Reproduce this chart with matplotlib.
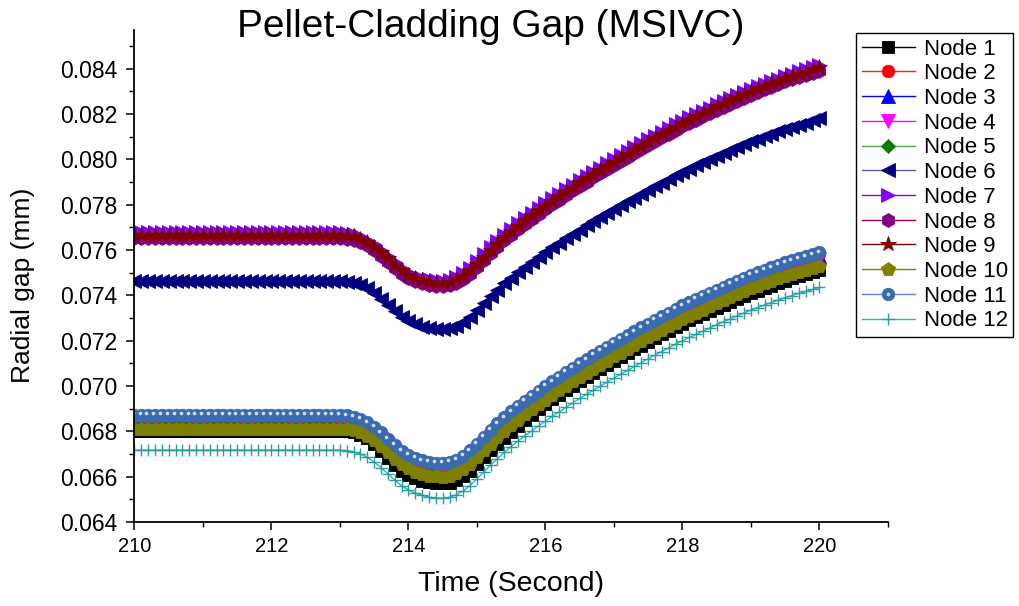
import numpy as np
import matplotlib
matplotlib.use("Agg")
import matplotlib.pyplot as plt
import matplotlib.transforms as mtransforms
from matplotlib.legend_handler import HandlerTuple
from matplotlib.ticker import MultipleLocator, FormatStrFormatter

plt.rcParams['font.family'] = ['Liberation Sans', 'DejaVu Sans']

# Sample times (s), every 0.1 s
time_s = np.round(np.linspace(210.0, 220.0, 101), 1)

# Radial pellet-cladding gap (mm) per axial node; constant until 213.0 s
node1 = [0.06802] * 31 + [
    0.06800, 0.06795, 0.06785, 0.06770, 0.06745, 0.06715, 0.06683, 0.06650, 0.06625, 0.06606,
    0.06592, 0.06582, 0.06575, 0.06571, 0.06570, 0.06574, 0.06585, 0.06602, 0.06626, 0.06655,
    0.06686, 0.06716, 0.06745, 0.06772, 0.06798, 0.06824, 0.06849, 0.06873, 0.06897, 0.06920,
    0.06941, 0.06961, 0.06981, 0.07001, 0.07020, 0.07038, 0.07056, 0.07074, 0.07092, 0.07110,
    0.07127, 0.07144, 0.07161, 0.07178, 0.07195, 0.07211, 0.07227, 0.07243, 0.07259, 0.07275,
    0.07289, 0.07303, 0.07317, 0.07331, 0.07345, 0.07358, 0.07371, 0.07384, 0.07397, 0.07410,
    0.07421, 0.07432, 0.07443, 0.07454, 0.07465, 0.07474, 0.07483, 0.07492, 0.07501, 0.07510]

node2 = [0.06864] * 31 + [
    0.06862, 0.06857, 0.06847, 0.06832, 0.06812, 0.06787, 0.06760, 0.06732, 0.06707, 0.06688,
    0.06674, 0.06664, 0.06657, 0.06653, 0.06652, 0.06656, 0.06667, 0.06684, 0.06708, 0.06737,
    0.06768, 0.06798, 0.06827, 0.06854, 0.06880, 0.06904, 0.06927, 0.06949, 0.06971, 0.06992,
    0.07013, 0.07033, 0.07053, 0.07073, 0.07092, 0.07110, 0.07128, 0.07146, 0.07164, 0.07182,
    0.07199, 0.07216, 0.07233, 0.07250, 0.07267, 0.07283, 0.07299, 0.07315, 0.07331, 0.07347,
    0.07361, 0.07375, 0.07389, 0.07403, 0.07417, 0.07430, 0.07443, 0.07456, 0.07469, 0.07482,
    0.07493, 0.07504, 0.07515, 0.07526, 0.07537, 0.07546, 0.07555, 0.07564, 0.07573, 0.07582]

node3 = [0.06854] * 31 + [
    0.06852, 0.06847, 0.06837, 0.06822, 0.06802, 0.06777, 0.06750, 0.06722, 0.06697, 0.06678,
    0.06664, 0.06654, 0.06647, 0.06643, 0.06642, 0.06646, 0.06657, 0.06674, 0.06698, 0.06727,
    0.06758, 0.06788, 0.06817, 0.06844, 0.06870, 0.06894, 0.06917, 0.06939, 0.06961, 0.06982,
    0.07003, 0.07023, 0.07043, 0.07063, 0.07082, 0.07100, 0.07118, 0.07136, 0.07154, 0.07172,
    0.07189, 0.07206, 0.07223, 0.07240, 0.07257, 0.07273, 0.07289, 0.07305, 0.07321, 0.07337,
    0.07351, 0.07365, 0.07379, 0.07393, 0.07407, 0.07420, 0.07433, 0.07446, 0.07459, 0.07472,
    0.07483, 0.07494, 0.07505, 0.07516, 0.07527, 0.07536, 0.07545, 0.07554, 0.07563, 0.07572]

node4 = [0.06842] * 31 + [
    0.06840, 0.06835, 0.06825, 0.06810, 0.06790, 0.06765, 0.06738, 0.06710, 0.06685, 0.06666,
    0.06652, 0.06642, 0.06635, 0.06631, 0.06630, 0.06634, 0.06645, 0.06662, 0.06686, 0.06715,
    0.06746, 0.06776, 0.06805, 0.06832, 0.06858, 0.06882, 0.06905, 0.06927, 0.06949, 0.06970,
    0.06991, 0.07011, 0.07031, 0.07051, 0.07070, 0.07088, 0.07106, 0.07124, 0.07142, 0.07160,
    0.07177, 0.07194, 0.07211, 0.07228, 0.07245, 0.07261, 0.07277, 0.07293, 0.07309, 0.07325,
    0.07339, 0.07353, 0.07367, 0.07381, 0.07395, 0.07408, 0.07421, 0.07434, 0.07447, 0.07460,
    0.07471, 0.07482, 0.07493, 0.07504, 0.07515, 0.07524, 0.07533, 0.07542, 0.07551, 0.07560]

node5 = [0.06817] * 31 + [
    0.06815, 0.06810, 0.06800, 0.06785, 0.06765, 0.06740, 0.06713, 0.06685, 0.06660, 0.06641,
    0.06627, 0.06617, 0.06610, 0.06606, 0.06605, 0.06609, 0.06620, 0.06637, 0.06661, 0.06690,
    0.06721, 0.06751, 0.06780, 0.06807, 0.06833, 0.06857, 0.06880, 0.06902, 0.06924, 0.06945,
    0.06966, 0.06986, 0.07006, 0.07026, 0.07045, 0.07063, 0.07081, 0.07099, 0.07117, 0.07135,
    0.07152, 0.07169, 0.07186, 0.07203, 0.07220, 0.07236, 0.07252, 0.07268, 0.07284, 0.07300,
    0.07314, 0.07328, 0.07342, 0.07356, 0.07370, 0.07383, 0.07396, 0.07409, 0.07422, 0.07435,
    0.07446, 0.07457, 0.07468, 0.07479, 0.07490, 0.07499, 0.07508, 0.07517, 0.07526, 0.07535]

node6 = [0.07462] * 31 + [
    0.07460, 0.07455, 0.07445, 0.07430, 0.07410, 0.07385, 0.07358, 0.07330, 0.07305, 0.07286,
    0.07272, 0.07262, 0.07255, 0.07251, 0.07250, 0.07254, 0.07265, 0.07282, 0.07306, 0.07335,
    0.07366, 0.07396, 0.07425, 0.07452, 0.07478, 0.07502, 0.07525, 0.07547, 0.07569, 0.07590,
    0.07611, 0.07631, 0.07651, 0.07671, 0.07690, 0.07708, 0.07726, 0.07744, 0.07762, 0.07780,
    0.07797, 0.07814, 0.07831, 0.07848, 0.07865, 0.07881, 0.07897, 0.07913, 0.07929, 0.07945,
    0.07959, 0.07973, 0.07987, 0.08001, 0.08015, 0.08028, 0.08041, 0.08054, 0.08067, 0.08080,
    0.08091, 0.08102, 0.08113, 0.08124, 0.08135, 0.08144, 0.08153, 0.08162, 0.08171, 0.08180]

node7 = [0.07677] * 31 + [
    0.07675, 0.07670, 0.07660, 0.07645, 0.07625, 0.07600, 0.07573, 0.07545, 0.07520, 0.07501,
    0.07487, 0.07477, 0.07470, 0.07466, 0.07465, 0.07469, 0.07480, 0.07497, 0.07521, 0.07550,
    0.07581, 0.07611, 0.07640, 0.07667, 0.07693, 0.07717, 0.07740, 0.07762, 0.07784, 0.07805,
    0.07827, 0.07847, 0.07868, 0.07888, 0.07908, 0.07926, 0.07945, 0.07963, 0.07982, 0.08000,
    0.08018, 0.08035, 0.08053, 0.08070, 0.08088, 0.08104, 0.08121, 0.08137, 0.08154, 0.08170,
    0.08185, 0.08199, 0.08214, 0.08228, 0.08243, 0.08256, 0.08270, 0.08283, 0.08297, 0.08310,
    0.08322, 0.08333, 0.08345, 0.08356, 0.08368, 0.08377, 0.08387, 0.08396, 0.08406, 0.08415]

node8 = [0.07652] * 31 + [
    0.07650, 0.07645, 0.07635, 0.07620, 0.07600, 0.07575, 0.07548, 0.07520, 0.07495, 0.07476,
    0.07462, 0.07452, 0.07445, 0.07441, 0.07440, 0.07444, 0.07455, 0.07472, 0.07496, 0.07525,
    0.07556, 0.07586, 0.07615, 0.07642, 0.07668, 0.07692, 0.07715, 0.07737, 0.07759, 0.07780,
    0.07802, 0.07822, 0.07843, 0.07863, 0.07883, 0.07901, 0.07920, 0.07938, 0.07957, 0.07975,
    0.07993, 0.08010, 0.08028, 0.08045, 0.08063, 0.08079, 0.08096, 0.08112, 0.08129, 0.08145,
    0.08160, 0.08174, 0.08189, 0.08203, 0.08218, 0.08231, 0.08245, 0.08258, 0.08272, 0.08285,
    0.08297, 0.08308, 0.08320, 0.08331, 0.08343, 0.08352, 0.08362, 0.08371, 0.08381, 0.08390]

node9 = [0.07667] * 31 + [
    0.07665, 0.07660, 0.07650, 0.07635, 0.07615, 0.07590, 0.07563, 0.07535, 0.07510, 0.07491,
    0.07477, 0.07467, 0.07460, 0.07456, 0.07455, 0.07459, 0.07470, 0.07487, 0.07511, 0.07540,
    0.07571, 0.07601, 0.07630, 0.07657, 0.07683, 0.07707, 0.07730, 0.07752, 0.07774, 0.07795,
    0.07817, 0.07837, 0.07858, 0.07878, 0.07898, 0.07916, 0.07935, 0.07953, 0.07972, 0.07990,
    0.08008, 0.08025, 0.08043, 0.08060, 0.08078, 0.08094, 0.08111, 0.08127, 0.08144, 0.08160,
    0.08175, 0.08189, 0.08204, 0.08218, 0.08233, 0.08246, 0.08260, 0.08273, 0.08287, 0.08300,
    0.08312, 0.08323, 0.08335, 0.08346, 0.08358, 0.08367, 0.08377, 0.08386, 0.08396, 0.08405]

node10 = [0.06812] * 31 + [
    0.06810, 0.06805, 0.06795, 0.06780, 0.06760, 0.06735, 0.06708, 0.06680, 0.06655, 0.06636,
    0.06622, 0.06612, 0.06605, 0.06601, 0.06600, 0.06604, 0.06615, 0.06632, 0.06656, 0.06685,
    0.06716, 0.06746, 0.06775, 0.06802, 0.06828, 0.06852, 0.06875, 0.06897, 0.06919, 0.06940,
    0.06961, 0.06981, 0.07001, 0.07021, 0.07040, 0.07058, 0.07076, 0.07094, 0.07112, 0.07130,
    0.07147, 0.07164, 0.07181, 0.07198, 0.07215, 0.07231, 0.07247, 0.07263, 0.07279, 0.07295,
    0.07309, 0.07323, 0.07337, 0.07351, 0.07365, 0.07378, 0.07391, 0.07404, 0.07417, 0.07430,
    0.07441, 0.07452, 0.07463, 0.07474, 0.07485, 0.07494, 0.07503, 0.07512, 0.07521, 0.07530]

node11 = [0.06872] * 31 + [
    0.06870, 0.06865, 0.06855, 0.06840, 0.06820, 0.06795, 0.06768, 0.06740, 0.06715, 0.06696,
    0.06682, 0.06672, 0.06665, 0.06661, 0.06660, 0.06664, 0.06675, 0.06692, 0.06716, 0.06745,
    0.06776, 0.06806, 0.06835, 0.06862, 0.06888, 0.06912, 0.06935, 0.06957, 0.06979, 0.07000,
    0.07021, 0.07041, 0.07061, 0.07081, 0.07100, 0.07118, 0.07136, 0.07154, 0.07172, 0.07190,
    0.07207, 0.07224, 0.07241, 0.07258, 0.07275, 0.07291, 0.07307, 0.07323, 0.07339, 0.07355,
    0.07369, 0.07383, 0.07397, 0.07411, 0.07425, 0.07438, 0.07451, 0.07464, 0.07477, 0.07490,
    0.07501, 0.07512, 0.07523, 0.07534, 0.07545, 0.07554, 0.07563, 0.07572, 0.07581, 0.07590]

node12 = [0.06717] * 31 + [
    0.06715, 0.06710, 0.06700, 0.06685, 0.06665, 0.06640, 0.06613, 0.06585, 0.06560, 0.06541,
    0.06527, 0.06517, 0.06510, 0.06506, 0.06505, 0.06509, 0.06520, 0.06537, 0.06561, 0.06590,
    0.06621, 0.06651, 0.06680, 0.06707, 0.06733, 0.06757, 0.06780, 0.06802, 0.06824, 0.06845,
    0.06866, 0.06886, 0.06906, 0.06926, 0.06945, 0.06963, 0.06981, 0.06999, 0.07017, 0.07035,
    0.07052, 0.07069, 0.07086, 0.07103, 0.07120, 0.07136, 0.07152, 0.07168, 0.07184, 0.07200,
    0.07214, 0.07228, 0.07242, 0.07256, 0.07270, 0.07283, 0.07296, 0.07309, 0.07322, 0.07335,
    0.07346, 0.07357, 0.07368, 0.07379, 0.07390, 0.07399, 0.07408, 0.07417, 0.07426, 0.07435]

labels = [f"Node {i}" for i in range(1, 13)]
series = [node1, node2, node3, node4, node5, node6,
          node7, node8, node9, node10, node11, node12]

# marker, marker colour, line colour, marker size (pt)
styles = [
    ("s", "#000000", "#000000", 8.0),
    ("o", "#ff0000", "#ff2020", 9.0),
    ("^", "#0000ff", "#0000ff", 10.0),
    ("v", "#ff00ff", "#ff00ff", 10.0),
    ("D", "#008000", "#4fa84f", 7.5),
    ("<", "#000080", "#5c5ca8", 10.0),
    (">", "#8000ff", "#8000ff", 10.0),
    ("h", "#800080", "#800080", 10.0),
    ("*", "#800000", "#800000", 11.5),
    ("p", "#808000", "#808000", 10.0),
    ("o", "#3a6bb0", "#5a86c4", 9.0),
    ("+", "#2a9d9d", "#3cb0b0", 9.0),
]

fig = plt.figure(figsize=(10.19, 6.06), dpi=100)
ax = fig.add_axes([0.1319, 0.1386, 0.7395, 0.8119])

handles = []
for lab, ys, (mk, mc, lc, ms) in zip(labels, series, styles):
    if mk == "+":
        ln, = ax.plot(time_s, ys, color=lc, lw=1.0, marker=mk, ms=ms,
                      mec=mc, mew=1.0, label=lab)
    else:
        ln, = ax.plot(time_s, ys, color=lc, lw=1.0, marker=mk, ms=ms,
                      mfc=mc, mec=mc, mew=0.6, label=lab)
    handles.append(ln)

# glossy highlight on the sphere markers of node 11
shine = mtransforms.offset_copy(ax.transData, fig=fig, x=-1.2, y=1.2, units="points")
hl, = ax.plot(time_s, node11, ls="none", marker="o", ms=2.6, mfc="#d2def0",
              mec="none", transform=shine, zorder=handles[10].get_zorder())
handles[11].set_zorder(hl.get_zorder() + 0.1)

ax.set_xlim(210, 221)
ax.set_ylim(0.064, 0.0857)
ax.xaxis.set_major_locator(MultipleLocator(2))
ax.xaxis.set_minor_locator(MultipleLocator(1))
ax.yaxis.set_major_locator(MultipleLocator(0.002))
ax.yaxis.set_minor_locator(MultipleLocator(0.001))
ax.yaxis.set_major_formatter(FormatStrFormatter("%.3f"))

for side in ("top", "right"):
    ax.spines[side].set_visible(False)
for side in ("left", "bottom"):
    ax.spines[side].set_linewidth(1.3)

ax.tick_params(axis="both", which="major", direction="out", length=6, width=1.1,
               color="black")
ax.tick_params(axis="both", which="minor", direction="out", length=3.5, width=1.0)
ax.tick_params(axis="y", which="major", pad=6, labelsize=16.5)
ax.tick_params(axis="x", which="major", pad=5, labelsize=14.5)

fig.text(491 / 1019, 1 - 37 / 606, "Pellet-Cladding Gap (MSIVC)", fontsize=28,
         ha="center", va="baseline")
fig.text(511 / 1019, 1 - 584 / 606, "Time (Second)", fontsize=20.5,
         ha="center", va="center")
fig.text(23 / 1019, 1 - 285 / 606, "Radial gap (mm)", fontsize=19,
         ha="center", va="center", rotation=90)

leg_handles = handles[:10] + [(handles[10], hl), handles[11]]
leg = fig.legend(leg_handles, labels, loc="upper left",
                 bbox_to_anchor=(856 / 1019, 1 - 33 / 606),
                 bbox_transform=fig.transFigure, fontsize=16,
                 handlelength=2.4, handletextpad=0.4, borderpad=0.25,
                 labelspacing=0.167, borderaxespad=0, fancybox=False,
                 framealpha=1, edgecolor="black",
                 handler_map={tuple: HandlerTuple(ndivide=1)})
leg.get_frame().set_linewidth(1.0)

fig.savefig("out.png", dpi=100)
